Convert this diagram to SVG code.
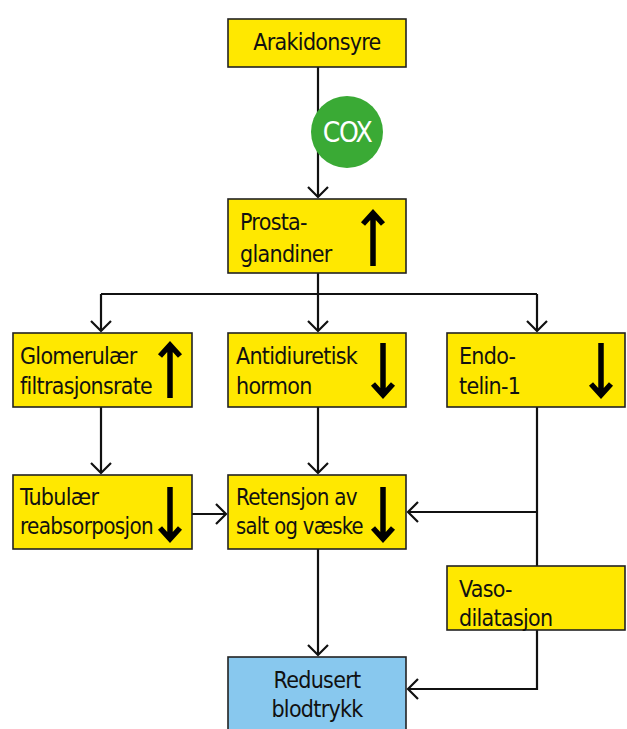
<svg xmlns="http://www.w3.org/2000/svg" width="627" height="729" viewBox="0 0 627 729">
<style>
.box{fill:#FFE800;stroke:#222;stroke-width:1.6}
.blue{fill:#88C8EE;stroke:#222;stroke-width:1.6}
.t{font-family:"Liberation Sans Narrow","DejaVu Sans Condensed","Liberation Sans",sans-serif;font-size:23px;letter-spacing:-0.7px;fill:#111}
.c{stroke:#111;stroke-width:2.2;fill:none}
.big{stroke:#000;stroke-width:5.5;fill:none;stroke-linejoin:miter}
</style>
<defs>
<marker id="ah" markerWidth="24" markerHeight="24" refX="12" refY="12" orient="auto" markerUnits="userSpaceOnUse">
<path d="M2,2 L12,12 L2,22" fill="none" stroke="#111" stroke-width="2.2"/>
</marker>
</defs>
<g id="connectors">
<path class="c" d="M318,67 V197" marker-end="url(#ah)"/>
<path class="c" d="M318,273 V294"/>
<path class="c" d="M101,294 H537"/>
<path class="c" d="M101,294 V331" marker-end="url(#ah)"/>
<path class="c" d="M318,294 V331" marker-end="url(#ah)"/>
<path class="c" d="M537,294 V331" marker-end="url(#ah)"/>
<path class="c" d="M101,407 V473" marker-end="url(#ah)"/>
<path class="c" d="M318,407 V473" marker-end="url(#ah)"/>
<path class="c" d="M192,514 H226" marker-end="url(#ah)"/>
<path class="c" d="M537,407 V566"/>
<path class="c" d="M537,512 H408" marker-end="url(#ah)"/>
<path class="c" d="M318,549 V655" marker-end="url(#ah)"/>
<path class="c" d="M537,630 V689 H408" marker-end="url(#ah)"/>
</g>
<g id="arakidonsyre">
<rect class="box" x="228" y="19" width="178" height="48"/>
<text class="t" x="317" y="50" text-anchor="middle">Arakidonsyre</text>
</g>
<g id="cox">
<circle cx="347" cy="132" r="36" fill="#3AAA35"/>
<text class="t" x="347" y="142" text-anchor="middle" style="fill:#fff;font-size:28px;letter-spacing:-1.5px">COX</text>
</g>
<g id="prostaglandiner">
<rect class="box" x="228" y="199" width="178" height="74"/>
<text class="t" x="240" y="230">Prosta-</text>
<text class="t" x="240" y="262">glandiner</text>
<path class="big" d="M373,266 V213 M363,224 L373,213 L383,224"/>
</g>
<g id="glomerulaer">
<rect class="box" x="13" y="333" width="179" height="74"/>
<text class="t" x="20" y="364">Glomerulær</text>
<text class="t" x="20" y="394" textLength="132" lengthAdjust="spacingAndGlyphs">filtrasjonsrate</text>
<path class="big" d="M170,398 V345 M160,356 L170,345 L180,356"/>
</g>
<g id="antidiuretisk">
<rect class="box" x="228" y="333" width="178" height="74"/>
<text class="t" x="236" y="364" textLength="121" lengthAdjust="spacingAndGlyphs">Antidiuretisk</text>
<text class="t" x="236" y="394">hormon</text>
<path class="big" d="M383,343 V395 M373,384 L383,395 L393,384"/>
</g>
<g id="endotelin">
<rect class="box" x="447" y="333" width="178" height="74"/>
<text class="t" x="459" y="364">Endo-</text>
<text class="t" x="459" y="394">telin-1</text>
<path class="big" d="M601,343 V395 M591,384 L601,395 L611,384"/>
</g>
<g id="tubulaer">
<rect class="box" x="13" y="475" width="179" height="74"/>
<text class="t" x="20" y="505">Tubulær</text>
<text class="t" x="20" y="534" textLength="133" lengthAdjust="spacingAndGlyphs">reabsorposjon</text>
<path class="big" d="M170,487 V539 M160,528 L170,539 L180,528"/>
</g>
<g id="retensjon">
<rect class="box" x="228" y="475" width="178" height="74"/>
<text class="t" x="236" y="505" textLength="121" lengthAdjust="spacingAndGlyphs">Retensjon av</text>
<text class="t" x="236" y="534" textLength="127" lengthAdjust="spacingAndGlyphs">salt og væske</text>
<path class="big" d="M383,487 V539 M373,528 L383,539 L393,528"/>
</g>
<g id="vasodilatasjon">
<rect class="box" x="447" y="566" width="178" height="64"/>
<text class="t" x="459" y="597">Vaso-</text>
<text class="t" x="459" y="626">dilatasjon</text>
</g>
<g id="redusert">
<rect class="blue" x="228" y="657" width="178" height="80"/>
<text class="t" x="317" y="688" text-anchor="middle">Redusert</text>
<text class="t" x="317" y="717" text-anchor="middle">blodtrykk</text>
</g>
</svg>
